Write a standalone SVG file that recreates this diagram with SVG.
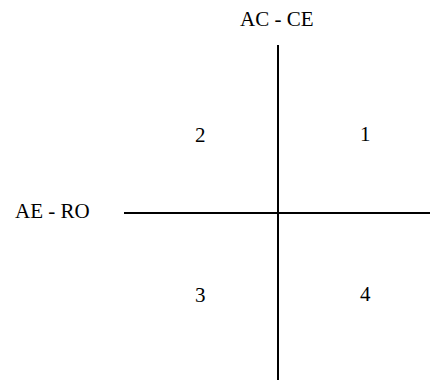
<svg xmlns="http://www.w3.org/2000/svg" width="430" height="380" viewBox="0 0 430 380">
<style>
text{font-family:"Liberation Serif","Times New Roman",serif;font-size:21px;fill:#000}
line{stroke:#000;stroke-width:2}
</style>
<rect width="430" height="380" fill="#fff"/>
<g id="connectors">
<line x1="278" y1="45" x2="278" y2="380"/>
<line x1="124" y1="213" x2="430" y2="213"/>
</g>
<g id="axis-y"><text x="240" y="26">AC - CE</text></g>
<g id="axis-x"><text x="15" y="218">AE - RO</text></g>
<g id="q1"><text x="360" y="141">1</text></g>
<g id="q2"><text x="195" y="142">2</text></g>
<g id="q3"><text x="195" y="302">3</text></g>
<g id="q4"><text x="360" y="301">4</text></g>
</svg>
